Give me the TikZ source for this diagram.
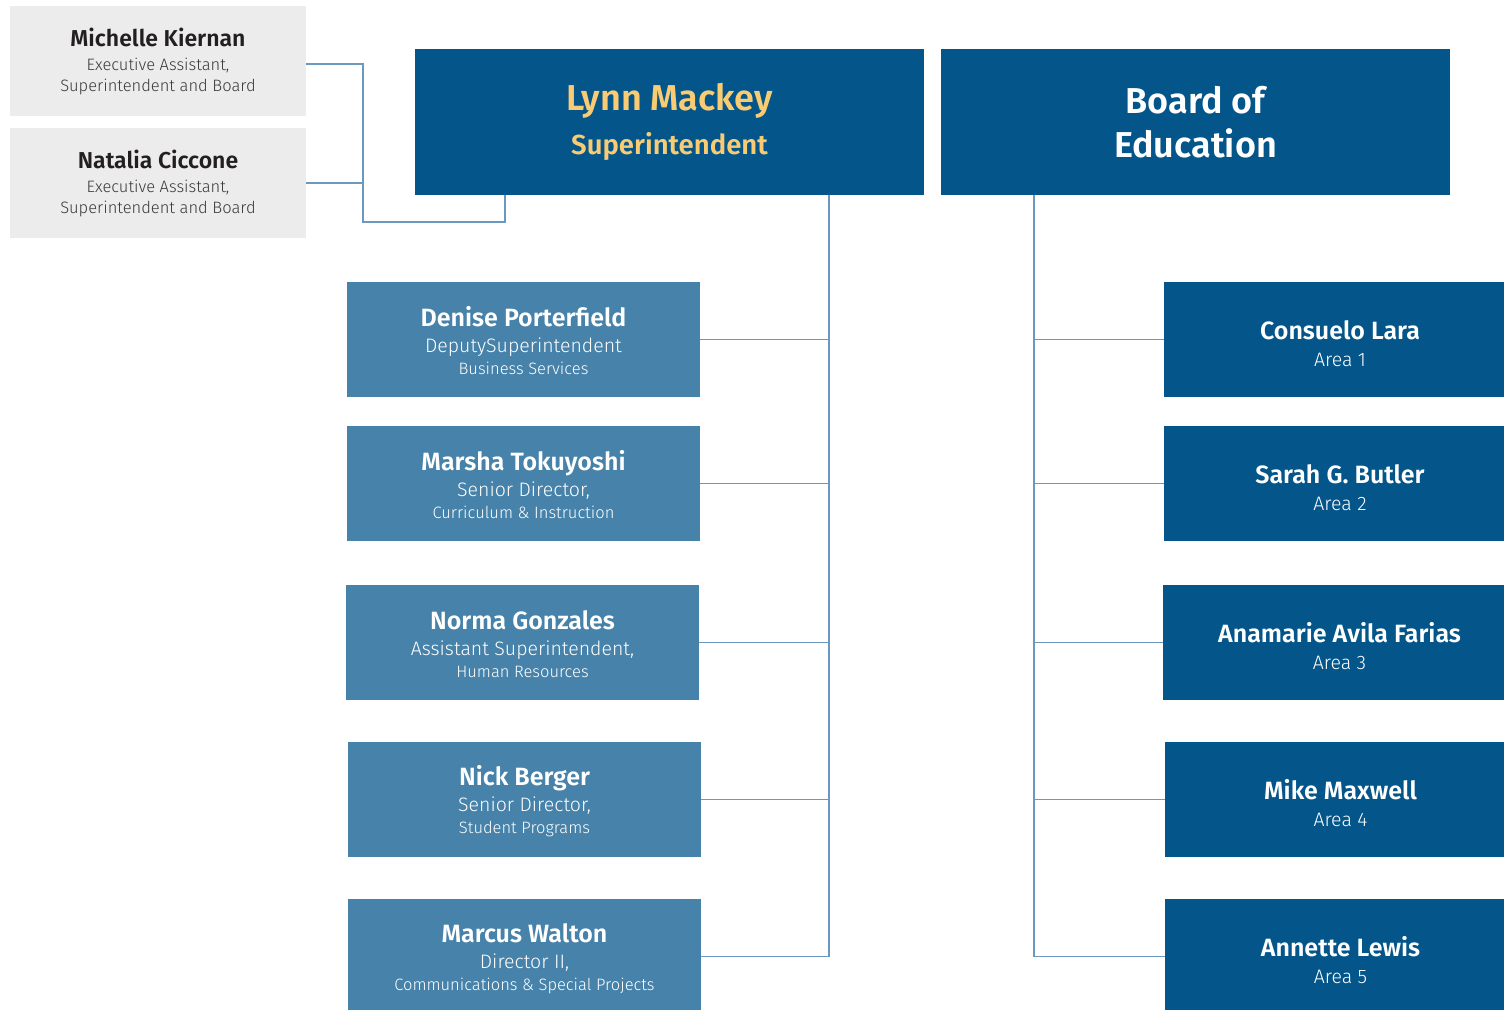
\documentclass[tikz,border=0pt]{standalone}
\usepackage{fontspec}
\setmainfont{Fira Sans}[BoldFont={Fira Sans SemiBold}]
\newfontfamily\lightfont{Fira Sans Light}
\usepackage{tikz}
\definecolor{darkblue}{HTML}{03558A}
\definecolor{midblue}{HTML}{4682A9}
\definecolor{paleGray}{HTML}{ECECEC}
\definecolor{linkblue}{HTML}{6A98BE}
\definecolor{gold}{HTML}{F9CB72}
\definecolor{inkgray}{HTML}{231F20}
\definecolor{subgray}{HTML}{3A3A3A}

\newcommand{\bigname}{\bfseries\fontsize{36}{40}\selectfont}
\newcommand{\name}{\bfseries\fontsize{25}{28}\selectfont}
\newcommand{\role}{\lightfont\fontsize{19.5}{27}\selectfont}
\newcommand{\dept}{\lightfont\fontsize{16.5}{22}\selectfont}
\newcommand{\asst}[1]{{\bfseries\fontsize{23}{26}\selectfont #1}\\[3pt]
	{\color{subgray}\lightfont\fontsize{16.5}{21}\selectfont Executive Assistant,}\\
	{\color{subgray}\lightfont\fontsize{16.5}{21}\selectfont Superintendent and Board}}
\newcommand{\staffer}[3]{\rule{0pt}{22.5pt}{\name #1}\\[-2pt] {\role #2}\\[-6pt] {\dept #3}}
\newcommand{\trustee}[2]{\hspace*{12pt}\rule{0pt}{26.5pt}{\name #1}\\[-2pt] \hspace*{12pt}{\role Area #2}}

\begin{document}
\begin{tikzpicture}[
		x=1pt, y=-1pt,
		every node/.style={inner sep=0pt, align=center},
		assist/.style={fill=paleGray, text=inkgray, minimum width=296, minimum height=110,
			font=\fontsize{16.5}{21}\selectfont},
		head/.style={fill=darkblue, text=white, minimum width=509, minimum height=146,
			font=\fontsize{28}{44}\selectfont},
		staff/.style={fill=midblue, text=white, minimum width=353, minimum height=115,
			font=\fontsize{20}{28}\selectfont},
		member/.style={fill=darkblue, text=white, minimum width=340, minimum height=115,
			font=\fontsize{19}{29}\selectfont},
		link/.style={draw=linkblue, line width=1.3pt}]
		\useasboundingbox (0,0) rectangle (1504,1009);

		\node[assist] (michelle) at (158,61)  {\asst{Michelle Kiernan}};
		\node[assist] (natalia)  at (158,183) {\asst{Natalia Ciccone}};

		\node[head, text=gold] (lynn) at (669.5,122) {{\bigname Lynn Mackey}\\ {\bfseries\fontsize{27.5}{30}\selectfont Superintendent}};
		\node[head] (board) at (1195.5,122) {{\bigname Board of}\\ {\bigname Education}};

		\node[staff] (denise)  at (523.5,339.5) {\staffer{Denise Porterfield}{DeputySuperintendent}{Business Services}};
		\node[staff] (marsha)  at (523.5,483.5) {\staffer{Marsha Tokuyoshi}{Senior Director,}{Curriculum \& Instruction}};
		\node[staff] (norma)   at (522.5,642.5) {\staffer{Norma Gonzales}{Assistant Superintendent,}{Human Resources}};
		\node[staff] (nick)    at (524.5,799.5) {\staffer{Nick Berger}{Senior Director,}{Student Programs}};
		\node[staff] (marcus)  at (524.5,956.5) {\staffer{Marcus Walton}{Director II,}{Communications \& Special Projects}};

		\node[member] (consuelo)  at (1334,339.5) {\trustee{Consuelo Lara}{1}};
		\node[member] (sarah)     at (1334,483.5) {\trustee{Sarah G. Butler}{2}};
		\node[member, minimum width=341] (anamarie) at (1333.5,642.5) {\trustee{Anamarie Avila Farias}{3}};
		\node[member, minimum width=339] (mike)     at (1334.5,799.5) {\trustee{Mike Maxwell}{4}};
		\node[member, minimum width=339] (annette)  at (1334.5,956.5) {\trustee{Annette Lewis}{5}};

		\coordinate (ajoin) at (363,222);
		\coordinate (lynnfoot) at (505,195);
		\coordinate (ltop) at (829,195);
		\coordinate (rtop) at (1034,195);

		% assistants
		\draw[link] ([yshift=-3pt]michelle.east) -| (ajoin) -| (lynnfoot);
		\draw[link] (natalia.east) -- (natalia.east -| ajoin);

		% superintendent staff
		\draw[link] (ltop) -- (ltop |- marcus.east);
		\foreach \who in {denise,marsha,norma,nick,marcus}
			\draw[link] (\who.east) -- (\who.east -| ltop);

		% board members
		\draw[link] (rtop) -- (rtop |- annette.west);
		\foreach \who in {consuelo,sarah,anamarie,mike,annette}
			\draw[link] (rtop |- \who.west) -- (\who.west);
\end{tikzpicture}
\end{document}
